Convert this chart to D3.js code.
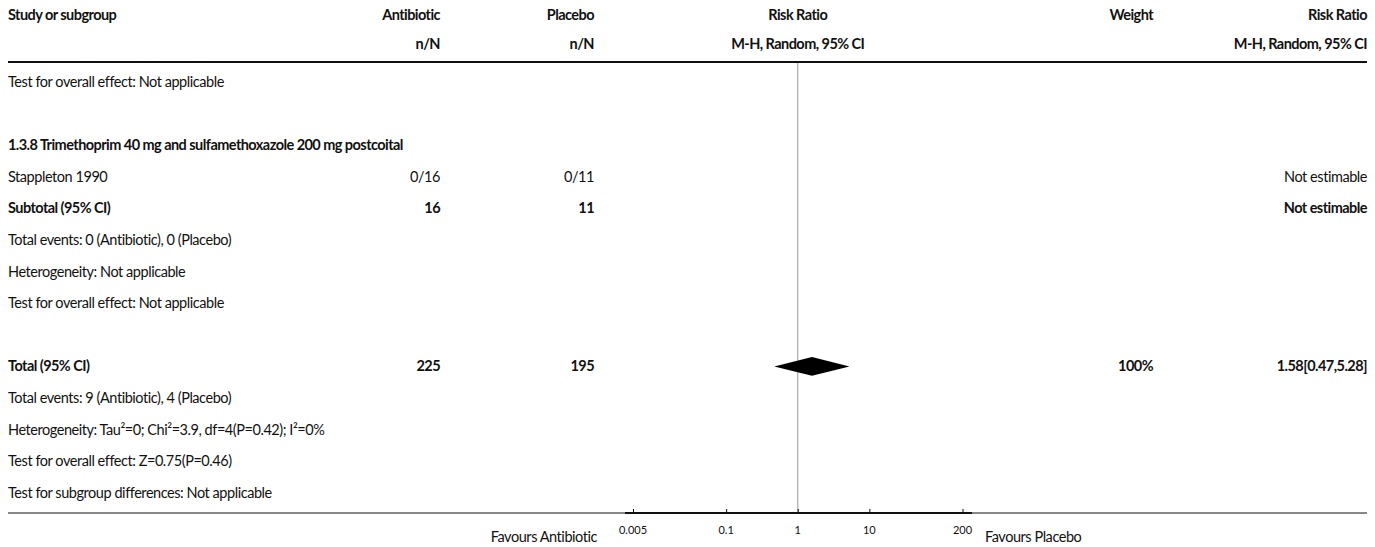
<!DOCTYPE html>
<html>
<head>
<meta charset="utf-8">
<script src="https://cdn.jsdelivr.net/npm/d3@7"></script>
<style>
  html, body { margin: 0; padding: 0; background: #fff; }
  svg text { font-family: Lato, "Open Sans", sans-serif; fill: #111; }
  svg text.cell { letter-spacing: -0.45px; }
  svg text.cell.b { letter-spacing: -0.55px; }
</style>
</head>
<body>
<svg id="chart" width="1375" height="547"></svg>
<script>
// Column headers
const headerTop = ["Study or subgroup", "Antibiotic", "Placebo", "Risk Ratio", "Weight", "Risk Ratio"];
const headerSub = ["", "n/N", "n/N", "M-H, Random, 95% CI", "", "M-H, Random, 95% CI"];

// Table rows (row index, label, bold)
const rowIndex = [0, 2, 3, 4, 5, 6, 7, 9, 10, 11, 12, 13];
const rowLabels = [
  "Test for overall effect: Not applicable",
  "1.3.8 Trimethoprim 40 mg and sulfamethoxazole 200 mg postcoital",
  "Stappleton 1990",
  "Subtotal (95% CI)",
  "Total events: 0 (Antibiotic), 0 (Placebo)",
  "Heterogeneity: Not applicable",
  "Test for overall effect: Not applicable",
  "Total (95% CI)",
  "Total events: 9 (Antibiotic), 4 (Placebo)",
  "Heterogeneity: Tau\u00B2=0; Chi\u00B2=3.9, df=4(P=0.42); I\u00B2=0%",
  "Test for overall effect: Z=0.75(P=0.46)",
  "Test for subgroup differences: Not applicable"
];
const rowBold = [false, true, false, true, false, false, false, true, false, false, false, false];
const antibioticCol = ["", "", "0/16", "16", "", "", "", "225", "", "", "", ""];
const placeboCol = ["", "", "0/11", "11", "", "", "", "195", "", "", "", ""];
const weightCol = ["", "", "", "", "", "", "", "100%", "", "", "", ""];
const effectCol = ["", "", "Not estimable", "Not estimable", "", "", "", "1.58[0.47,5.28]", "", "", "", ""];

// Pooled estimate (diamond) on the total row
const pooledRow = 9;
const pooledRR = 1.58, pooledLo = 0.47, pooledHi = 5.28;

// Axis
const tickValues = [0.005, 0.1, 1, 10, 200];
const favoursLeft = "Favours Antibiotic";
const favoursRight = "Favours Placebo";

const svg = d3.select("#chart");

const x = d3.scaleLog().domain([0.005, 200]).range([633, 962.5]);
const y = d3.scaleLinear().domain([0, 13]).range([82, 492.8]);

const colLeft = 8, colRight = 1367;
const antibioticRight = 440, placeboRight = 594, weightRight = 1153;
const fs = 14.5;

// Header
const hdrY = [15, 44];
const hdrX = [colLeft, antibioticRight, placeboRight, x(1), weightRight, colRight];
const hdrAnchor = ["start", "end", "end", "middle", "end", "end"];
[headerTop, headerSub].forEach((row, r) => {
  svg.append("g").selectAll("text").data(row).join("text")
    .attr("class", "cell b")
    .attr("x", (d, i) => hdrX[i])
    .attr("y", hdrY[r])
    .attr("dy", "0.35em")
    .attr("text-anchor", (d, i) => hdrAnchor[i])
    .attr("font-weight", "bold")
    .attr("font-size", fs)
    .text(d => d);
});

svg.append("line")
  .attr("x1", colLeft).attr("x2", colRight)
  .attr("y1", 62).attr("y2", 62)
  .attr("stroke", "#111").attr("stroke-width", 1.8);

const axisY = 513;

// Line of no effect
svg.append("line")
  .attr("x1", x(1)).attr("x2", x(1))
  .attr("y1", 63).attr("y2", axisY)
  .attr("stroke", "#999").attr("stroke-width", 1);

// Body rows
const rows = rowIndex.map((r, i) => ({
  r, label: rowLabels[i], bold: rowBold[i],
  a: antibioticCol[i], p: placeboCol[i], w: weightCol[i], e: effectCol[i]
}));

const body = svg.append("g");
const cells = [
  { key: "label", x: colLeft, anchor: "start" },
  { key: "a", x: antibioticRight, anchor: "end" },
  { key: "p", x: placeboRight, anchor: "end" },
  { key: "w", x: weightRight, anchor: "end" },
  { key: "e", x: colRight, anchor: "end" }
];
cells.forEach(c => {
  body.append("g").selectAll("text")
    .data(rows.filter(d => d[c.key] !== ""))
    .join("text")
    .attr("class", d => d.bold ? "cell b" : "cell")
    .attr("x", c.x)
    .attr("y", d => y(d.r))
    .attr("dy", "0.35em")
    .attr("text-anchor", c.anchor)
    .attr("font-size", fs)
    .attr("font-weight", d => d.bold ? "bold" : "normal")
    .text(d => d[c.key]);
});

// Pooled diamond
const dy = y(pooledRow);
const halfH = 9.3;
svg.append("path")
  .attr("d", d3.line()([
    [x(pooledLo), dy], [x(pooledRR), dy - halfH],
    [x(pooledHi), dy], [x(pooledRR), dy + halfH]
  ]) + "Z")
  .attr("fill", "#000");

// Bottom rule and axis
svg.append("line")
  .attr("x1", colLeft).attr("x2", colRight)
  .attr("y1", axisY).attr("y2", axisY)
  .attr("stroke", "#111").attr("stroke-width", 1);

const axisG = svg.append("g").attr("transform", `translate(0,${axisY})`)
  .call(d3.axisTop(x).tickValues(tickValues).tickSize(4).tickFormat(d3.format("~g")));
axisG.select(".domain").remove();
axisG.selectAll(".tick line").attr("stroke", "#111");
axisG.selectAll(".tick text").remove();
axisG.append("line")
  .attr("x1", 625).attr("x2", 972)
  .attr("stroke", "#111").attr("stroke-width", 2);

svg.append("g").selectAll("text").data(tickValues).join("text")
  .attr("x", d => x(d))
  .attr("y", 530)
  .attr("dy", "0.35em")
  .attr("text-anchor", "middle")
  .attr("font-size", 11)
  .text(d => d3.format("~g")(d));

svg.append("text")
  .attr("class", "cell")
  .attr("x", 597).attr("y", 537).attr("dy", "0.35em")
  .attr("text-anchor", "end").attr("font-size", fs)
  .text(favoursLeft);
svg.append("text")
  .attr("class", "cell")
  .attr("x", 985).attr("y", 537).attr("dy", "0.35em")
  .attr("text-anchor", "start").attr("font-size", fs)
  .text(favoursRight);
</script>
</body>
</html>
